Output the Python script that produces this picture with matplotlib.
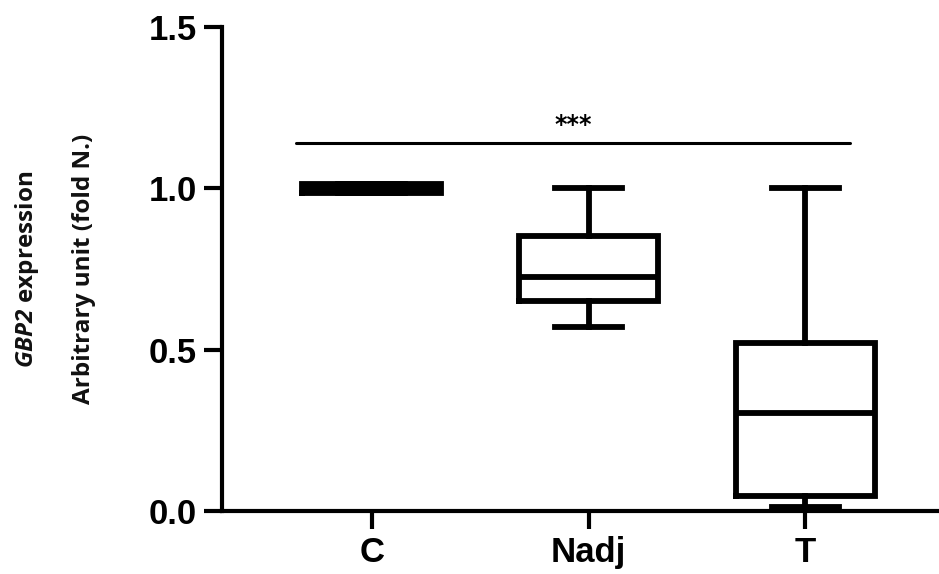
import matplotlib
matplotlib.use("Agg")
import matplotlib.pyplot as plt

plt.rcParams['font.family'] = ['Liberation Sans', 'DejaVu Sans']
plt.rcParams['mathtext.fontset'] = 'custom'
plt.rcParams['mathtext.it'] = 'Open Sans:italic:bold'
plt.rcParams['mathtext.rm'] = 'Open Sans:italic:bold'

# valeurs
groupes = ['C', 'Nadj', 'T']
moustache_bas = [0.987, 0.571, 0.012]
q1 = [0.987, 0.652, 0.047]
mediane = [1.0, 0.724, 0.304]
q3 = [1.013, 0.851, 0.522]
moustache_haut = [1.013, 1.0, 1.0]

sig_debut, sig_fin, sig_y = 0.653, 3.204, 1.14
sig_texte = '***'

fig = plt.figure(figsize=(9.39, 5.74), dpi=100)
ax = fig.add_axes([0.2364, 0.1098, 0.7636, 0.8432])

stats = []
for i, g in enumerate(groupes):
    stats.append({'label': g, 'whislo': moustache_bas[i], 'q1': q1[i], 'med': mediane[i],
                  'q3': q3[i], 'whishi': moustache_haut[i], 'fliers': []})

lw = 4.2
trait = dict(color='black', linewidth=lw, solid_joinstyle='miter', solid_capstyle='projecting')
ax.bxp(stats, positions=[1, 2, 3], widths=0.64, capwidths=0.31, showfliers=False,
       boxprops=trait, medianprops=dict(color='black', linewidth=lw, solid_capstyle='butt'),
       whiskerprops=dict(color='black', linewidth=lw), capprops=dict(color='black', linewidth=lw))

# ligne de significativité
ax.plot([sig_debut, sig_fin], [sig_y, sig_y], color='black', linewidth=2.2, solid_capstyle='round')
ax.text((sig_debut + sig_fin) / 2, sig_y + 0.02, sig_texte, ha='center', va='bottom',
        fontsize=17, fontweight='bold', family='DejaVu Sans')

ax.set_xlim(0.31, 3.616)
ax.set_ylim(0, 1.5)
ax.set_yticks([0.0, 0.5, 1.0, 1.5])
ax.set_yticklabels(['0.0', '0.5', '1.0', '1.5'])
ax.set_xticks([1, 2, 3])
ax.set_xticklabels(groupes)

for s in ['top', 'right']:
    ax.spines[s].set_visible(False)
for s in ['left', 'bottom']:
    ax.spines[s].set_linewidth(3)
ax.tick_params(axis='both', width=3, length=13, labelsize=25, pad=5)
for lab in ax.get_xticklabels() + ax.get_yticklabels():
    lab.set_fontweight('bold')

# titre de l'axe y sur deux lignes
ax.text(-0.192, 0.5, 'Arbitrary unit (fold N.)', transform=ax.transAxes, rotation=90,
        ha='center', va='center', fontsize=17.5, fontweight='bold', family='Open Sans',
        color='#111111')
ax.text(-0.272, 0.5, r'$\it{GBP2}$ expression', transform=ax.transAxes, rotation=90,
        ha='center', va='center', fontsize=17.5, fontweight='bold', family='Open Sans',
        color='#111111')

fig.savefig('out.png', dpi=100)
